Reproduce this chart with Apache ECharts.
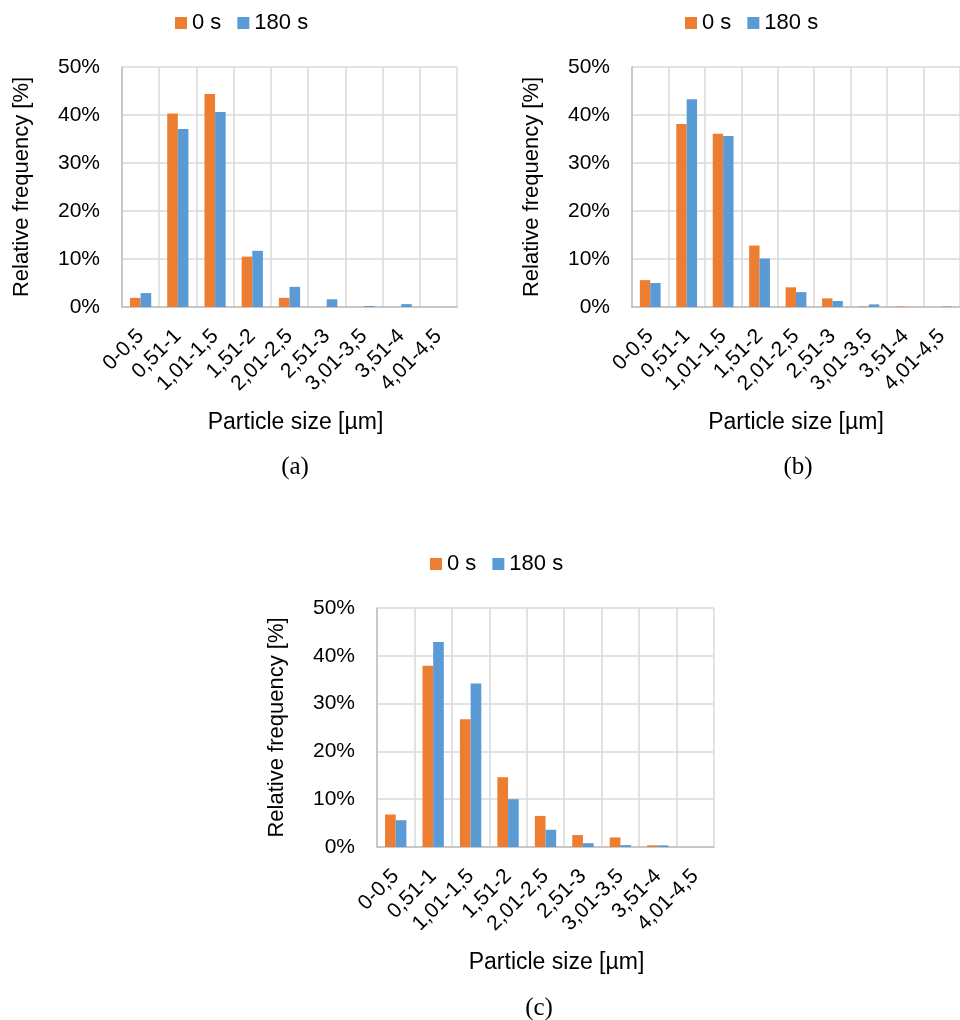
<!DOCTYPE html>
<html>
<head>
<meta charset="utf-8">
<script src="https://cdn.jsdelivr.net/npm/echarts@6/dist/echarts.min.js"></script>
<style>
html,body{margin:0;padding:0;background:#fff;}
#chart{width:960px;height:1020px;}
</style>
</head>
<body>
<div id="chart"></div>
<script>
const categories = ['0-0,5','0,51-1','1,01-1,5','1,51-2','2,01-2,5','2,51-3','3,01-3,5','3,51-4','4,01-4,5'];
const seriesNames = ['0 s', '180 s'];
const yTicks = [0, 10, 20, 30, 40, 50];
const a0 = [1.9, 40.3, 44.4, 10.5, 1.9, 0, 0, 0, 0];
const a180 = [2.9, 37.1, 40.6, 11.7, 4.2, 1.6, 0.2, 0.6, 0];
const b0 = [5.6, 38.1, 36.1, 12.8, 4.1, 1.8, 0.1, 0.1, 0];
const b180 = [5.0, 43.3, 35.6, 10.1, 3.1, 1.25, 0.55, 0, 0.1];
const c0 = [6.8, 37.9, 26.7, 14.6, 6.5, 2.5, 2.0, 0.35, 0];
const c180 = [5.6, 42.9, 34.2, 10.0, 3.6, 0.8, 0.4, 0.35, 0];
const panelLabels = ['(a)', '(b)', '(c)'];

const FONT = 'Liberation Sans';
const ORANGE = '#ED7D31';
const BLUE = '#5B9BD5';

const panels = [
  {grid:{left:122, top:67, width:335, height:240}, legendLeft:175, legendTop:12, nameShift:12, label:{x:295, y:467}, d0:a0, d180:a180},
  {grid:{left:632, top:67, width:336, height:240}, legendLeft:685, legendTop:12, nameShift:0, label:{x:798, y:467}, d0:b0, d180:b180},
  {grid:{left:377, top:608, width:337, height:239}, legendLeft:430, legendTop:553, nameShift:22, label:{x:539, y:1008}, d0:c0, d180:c180}
];

const option = {
  animation: false,
  backgroundColor: '#fff',
  textStyle: {fontFamily: FONT},
  grid: [], xAxis: [], yAxis: [], series: [], legend: [], graphic: []
};

panels.forEach((p, i) => {
  option.grid.push(Object.assign({containLabel:false}, p.grid));
  option.xAxis.push({
    type: 'category', gridIndex: i, data: categories,
    name: 'Particle size [µm]', nameLocation: 'middle', nameGap: 104,
    nameTextStyle: {fontFamily: FONT, fontSize: 23, color: '#000', padding: [0, 0, 0, p.nameShift]},
    axisLine: {show: true, lineStyle: {color: '#BFBFBF', width: 1.5}},
    axisTick: {show: false},
    axisLabel: {interval: 0, rotate: 45, fontFamily: FONT, fontSize: 21, color: '#000', margin: 26},
    splitLine: {show: true, interval: 0, lineStyle: {color: '#D9D9D9', width: 1.5}}
  });
  option.yAxis.push({
    type: 'value', gridIndex: i, min: yTicks[0], max: yTicks[yTicks.length-1], interval: 10,
    name: 'Relative frequency [%]', nameLocation: 'middle', nameRotate: 90, nameGap: 89,
    nameTextStyle: {fontFamily: FONT, fontSize: 22, color: '#000'},
    axisLine: {show: true, lineStyle: {color: '#BFBFBF', width: 1.5}},
    axisTick: {show: false},
    axisLabel: {formatter: '{value}%', fontFamily: FONT, fontSize: 21, color: '#000', margin: 22},
    splitLine: {show: true, lineStyle: {color: '#D9D9D9', width: 1.5}}
  });
  option.series.push({
    name: seriesNames[0], type: 'bar', xAxisIndex: i, yAxisIndex: i, data: p.d0,
    itemStyle: {color: ORANGE}, barGap: '0%', barCategoryGap: '43%'
  });
  option.series.push({
    name: seriesNames[1], type: 'bar', xAxisIndex: i, yAxisIndex: i, data: p.d180,
    itemStyle: {color: BLUE}, barGap: '0%', barCategoryGap: '43%'
  });
  option.legend.push({
    data: seriesNames, left: p.legendLeft, top: p.legendTop, orient: 'horizontal',
    icon: 'rect', itemWidth: 12, itemHeight: 12, itemGap: 16, padding: 0,
    textStyle: {fontFamily: FONT, fontSize: 22, color: '#000'},
    selectedMode: false
  });
  option.graphic.push({
    type: 'text', x: p.label.x, y: p.label.y, silent: true,
    style: {text: panelLabels[i], textAlign: 'center', textVerticalAlign: 'middle',
      font: '25px "Liberation Serif"', fill: '#000'}
  });
});

const chart = echarts.init(document.getElementById('chart'), null, {renderer: 'canvas'});
chart.setOption(option);
</script>
</body>
</html>
